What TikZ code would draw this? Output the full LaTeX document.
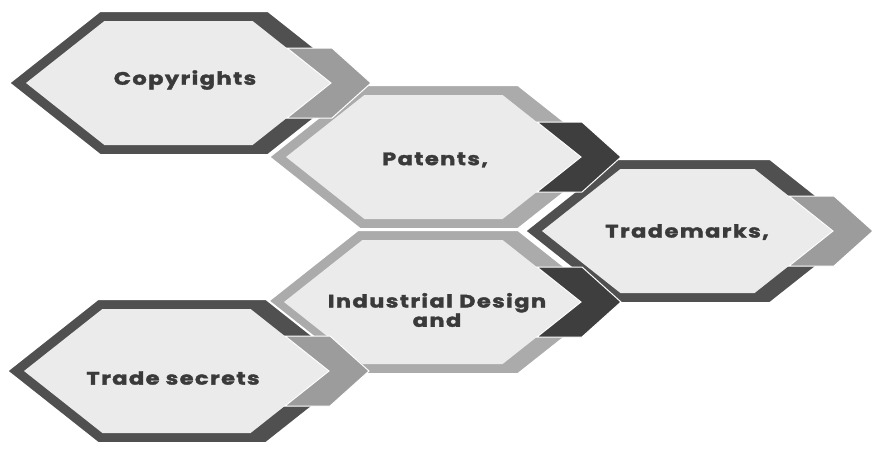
\documentclass[tikz,border=0pt]{standalone}
\usepackage{fontspec}
\setmainfont{Poppins}
\newfontfamily\lblfont{Poppins}[FakeStretch=1.25,LetterSpace=8,FakeBold=2]
\definecolor{darkborder}{HTML}{505050}
\definecolor{lightborder}{HTML}{ABABAB}
\definecolor{darktab}{HTML}{3E3E3E}
\definecolor{lighttab}{HTML}{9C9C9C}
\definecolor{cellfill}{HTML}{EBEBEB}
\definecolor{textgray}{HTML}{3A3A3A}
\newcommand\hexcell[4]{%
  \pgfmathsetmacro\hL{#1-91}\pgfmathsetmacro\hR{#2+91}%
  \pgfmathsetmacro\hT{#3-72}\pgfmathsetmacro\hB{#3+72}%
  \filldraw[fill=#4, draw=white, line width=2pt] (\hL,#3) -- (#1,\hT) -- (#2,\hT) -- (\hR,#3) -- (#2,\hB) -- (#1,\hB) -- cycle;
  \pgfmathsetmacro\iL{#1-74}\pgfmathsetmacro\iN{#2+63}%
  \pgfmathsetmacro\iT{#3-62}\pgfmathsetmacro\iB{#3+62}%
  \pgfmathsetmacro\iTL{\iL+78.4}\pgfmathsetmacro\iTR{\iN-78.4}%
  \fill[cellfill] (\iL,#3) -- (\iTL,\iT) -- (\iTR,\iT) -- (\iN,#3) -- (\iTR,\iB) -- (\iTL,\iB) -- cycle;
}
\newcommand\hextab[3]{%
  \pgfmathsetmacro\tN{#1+63}%
  \filldraw[fill=#3, draw=white, line width=1pt] (\tN-44,#2-35) -- (\tN+1,#2-35) -- (\tN+40,#2) -- (\tN+1,#2+35) -- (\tN-44,#2+35) -- (\tN,#2) -- cycle;
}
\begin{document}
\begin{tikzpicture}[x=1pt,y=-1pt,
  lbl/.style={font=\lblfont\bfseries\fontsize{18}{14}\selectfont, text=textgray, align=center, inner sep=0pt}]
\useasboundingbox (0,0) rectangle (872,453);
\fill[white] (0,0) rectangle (872,453);
% hexagons
\hexcell{100}{268}{83}{darkborder}
\hexcell{360}{518}{157}{lightborder}
\hexcell{616}{770}{231}{darkborder}
\hexcell{358}{518}{302}{lightborder}
\hexcell{98}{266}{371}{darkborder}
% tabs
\hextab{268}{83}{lighttab}
\hextab{518}{157}{darktab}
\hextab{770}{231}{lighttab}
\hextab{518}{302}{darktab}
\hextab{266}{371}{lighttab}
% labels
\node[lbl] (copy) at (185,80) {Copyrights};
\node[lbl] (pat) at (435,160) {Patents,};
\node[lbl] (tm) at (687,232) {Trademarks,};
\node[lbl] (ind) at (437,310) {Industrial Design\\and};
\node[lbl] (ts) at (173,378) {Trade secrets};
\end{tikzpicture}
\end{document}
